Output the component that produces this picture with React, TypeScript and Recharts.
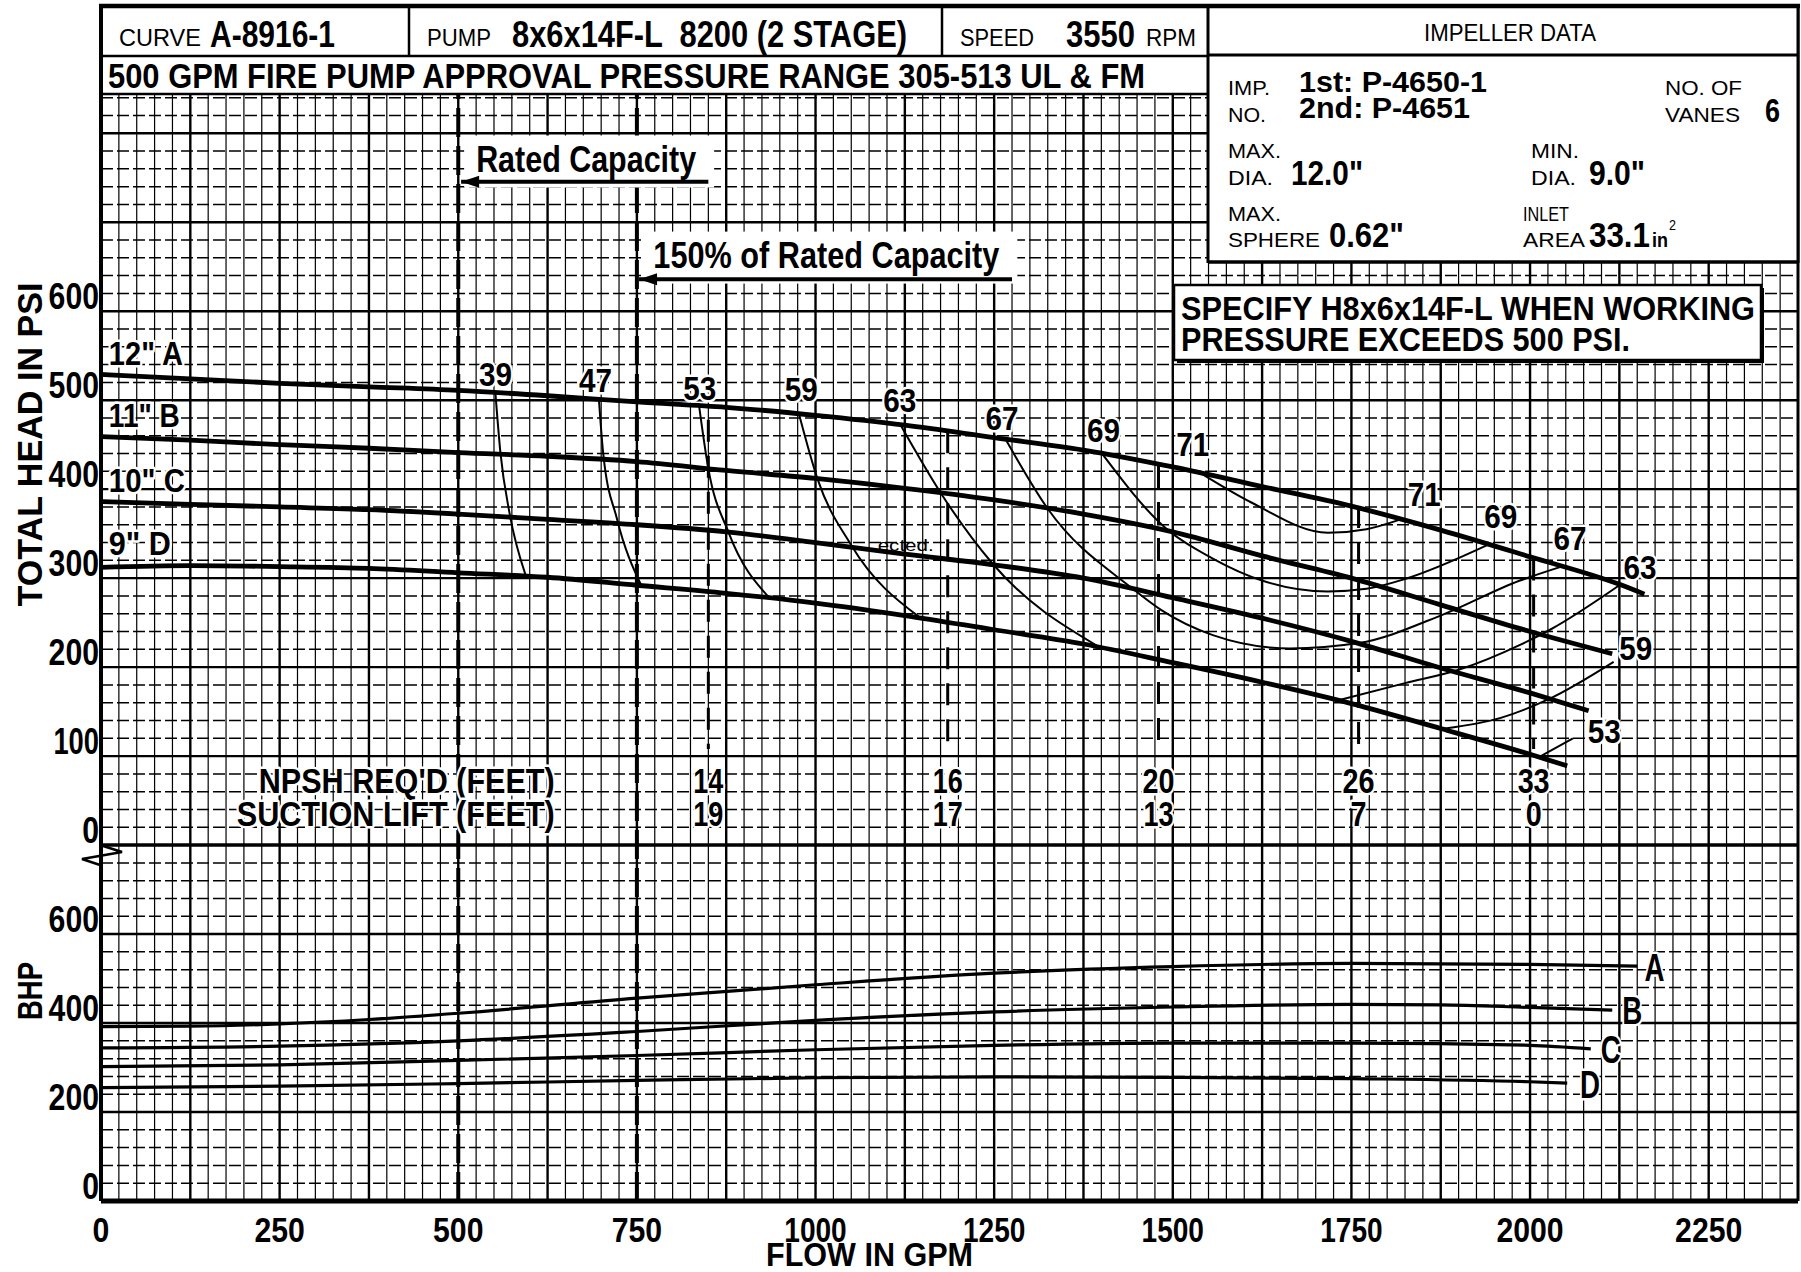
import React from "react";
import {
  ComposedChart, Line, Scatter, XAxis, YAxis, ReferenceLine,
} from "recharts";

const FONT = "'Liberation Sans', Arial, Helvetica, sans-serif";

// axis ticks
const flowTicks = [0, 250, 500, 750, 1000, 1250, 1500, 1750, 2000, 2250];
const headTicks = [0, 100, 200, 300, 400, 500, 600];
const bhpTicks = [0, 200, 400, 600];

// head curves, [gpm, psi]
const head12A = [[0, 529], [125, 524], [250, 519], [375, 515], [500, 511], [625, 505], [750, 498], [875, 492], [1000, 483], [1125, 472], [1250, 458], [1375, 444], [1500, 425], [1625, 403], [1750, 381], [1875, 354], [2000, 324], [2125, 293], [2160, 282]];
const head11B = [[0, 459], [125, 455], [250, 450], [375, 446], [500, 441], [625, 437], [750, 431], [875, 421], [1000, 412], [1125, 401], [1250, 388], [1375, 372], [1500, 352], [1625, 325], [1750, 300], [1875, 270], [2000, 240], [2115, 215]];
const head10C = [[0, 386], [125, 383], [250, 380], [375, 377], [500, 372], [625, 366], [750, 360], [875, 352], [1000, 340], [1125, 327], [1250, 315], [1375, 300], [1500, 278], [1625, 255], [1750, 229], [1875, 199], [2000, 171], [2082, 151]];
const head9D = [[0, 312], [125, 314], [250, 313], [375, 311], [500, 306], [625, 301], [750, 292], [875, 283], [1000, 272], [1125, 258], [1250, 242], [1375, 226], [1500, 205], [1625, 183], [1750, 159], [1875, 131], [2000, 102], [2052, 89]];

// brake horsepower curves, [gpm, hp]
const bhpA = [[0, 392], [125, 393], [250, 398], [375, 408], [500, 422], [750, 456], [1000, 486], [1250, 512], [1500, 527], [1750, 534], [2000, 532], [2150, 528]];
const bhpB = [[0, 344], [250, 348], [500, 360], [750, 381], [1000, 406], [1250, 425], [1500, 436], [1750, 442], [1875, 441], [2000, 435], [2115, 429]];
const bhpC = [[0, 302], [250, 306], [500, 316], [750, 327], [1000, 340], [1250, 350], [1500, 355], [1750, 355], [2000, 350], [2085, 342]];
const bhpD = [[0, 255], [250, 258], [500, 264], [750, 271], [1000, 277], [1250, 279], [1500, 278], [1750, 275], [2000, 268], [2052, 265]];

// efficiency lines, [gpm, psi]
const eff39 = [[552, 508], [559, 441], [572, 372], [594, 304]];
const eff47 = [[697, 499], [703, 439], [722, 367], [756, 292]];
const eff53 = [[837, 494], [850, 423], [878, 352], [934, 279]];
const eff59 = [[977, 484], [1003, 411], [1050, 337], [1144, 257]];
const eff63 = [[1119, 472], [1175, 396], [1247, 317], [1394, 224]];
const eff67 = [[1266, 456], [1325, 378], [1444, 288], [1484, 264], [1556, 236], [1664, 221], [1760, 227], [1878, 259], [1985, 297], [2044, 313]];
const eff69 = [[1400, 441], [1489, 357], [1556, 322], [1626, 297], [1717, 285], [1771, 288], [1825, 299], [1940, 337]];
const eff71 = [[1535, 420], [1610, 385], [1717, 351], [1771, 355], [1819, 366]];
const eff63R = [[1728, 162], [1825, 182], [1900, 197], [1986, 225], [2028, 242], [2125, 292]];
const eff59R = [[1881, 131], [1959, 143], [2026, 164], [2117, 206]];
const eff53R = [[2015, 100], [2060, 120]];

// NPSH
const npshFlow = [850, 1185, 1480, 1760, 2005];
const npshTop = [478, 465, 426, 381, 322];
const npshReq = ["14", "16", "20", "26", "33"];
const suctionLift = ["19", "17", "13", "7", "0"];

const ratedFlow = [500, 750];

// labels placed in chart units
const effLabels = [
  { t: "39", x: 552, y: 529 }, { t: "47", x: 692, y: 523 }, { t: "53", x: 838, y: 514 }, { t: "59", x: 980, y: 513 },
  { t: "63", x: 1118, y: 500 }, { t: "67", x: 1261, y: 480 }, { t: "69", x: 1403, y: 466 }, { t: "71", x: 1528, y: 451 },
  { t: "71", x: 1852, y: 394 }, { t: "69", x: 1959, y: 370 }, { t: "67", x: 2056, y: 345 }, { t: "63", x: 2154, y: 312 },
  { t: "59", x: 2148, y: 222 }, { t: "53", x: 2104, y: 128 },
];
const diaLabels = [
  { t: '12" A', x: 11, y: 539, w: 74 }, { t: '11" B', x: 11, y: 470, w: 71 },
  { t: '10" C', x: 11, y: 397, w: 76 }, { t: '9" D', x: 11, y: 326, w: 62 },
];
const bhpLabels = [
  { t: "A", x: 2160, hp: 495 }, { t: "B", x: 2129, hp: 397 }, { t: "C", x: 2099, hp: 310 }, { t: "D", x: 2070, hp: 232 },
];
const callouts = [
  { t: "Rated Capacity", x: 525, y: 757, w: 220, tip: 504, tail: 850, ay: 745.5 },
  { t: "150% of Rated Capacity", x: 773, y: 649, w: 346, tip: 753, tail: 1275, ay: 636 },
];

const bhpY = (hp: number) => (hp - 800) / 2;
const pts = (a: number[][]) => a.map(([x, y]) => ({ x, y }));
const bhpPts = (a: number[][]) => a.map(([x, y]) => ({ x, y: bhpY(y) }));

const numW = (s: string, d = 16.8, one = 12) =>
  [...s].reduce((a, c) => a + (c === "1" ? one : d), 0);

function XTick(p: any) {
  const s = String(p.payload.value);
  return (
    <text x={p.x} y={p.y + 41} textAnchor="middle" fontFamily={FONT} fontWeight="bold"
      fontSize={35} textLength={numW(s)} lengthAdjust="spacingAndGlyphs">{s}</text>
  );
}

function YTick(p: any) {
  const v = p.payload.value;
  const s = String(v >= 0 ? v : v * 2 + 800);
  return (
    <text x={p.x} y={p.y - 2} textAnchor="end" fontFamily={FONT} fontWeight="bold"
      fontSize={36} textLength={numW(s)} lengthAdjust="spacingAndGlyphs">{s}</text>
  );
}

const halo = { stroke: "#fff", strokeWidth: 5, paintOrder: "stroke" as const, strokeLinejoin: "round" as const };

const effShape = (p: any) => (
  <text x={p.cx} y={p.cy + 12} textAnchor="middle" fontFamily={FONT} fontWeight="bold" fontSize={34}
    textLength={33} lengthAdjust="spacingAndGlyphs" fill="#000" {...halo}>{p.payload.t}</text>
);
const diaShape = (p: any) => (
  <text x={p.cx} y={p.cy} fontFamily={FONT} fontWeight="bold" fontSize={33}
    textLength={p.payload.w} lengthAdjust="spacingAndGlyphs" fill="#000" {...halo}>{p.payload.t}</text>
);
const bhpShape = (p: any) => (
  <text x={p.cx} y={p.cy} fontFamily={FONT} fontWeight="bold" fontSize={38}
    textLength={20} lengthAdjust="spacingAndGlyphs" fill="#000" {...halo}>{p.payload.t}</text>
);
const npshShape = (p: any) => (
  <text x={p.cx} y={p.cy} textAnchor="middle" fontFamily={FONT} fontWeight="bold" fontSize={35}
    textLength={numW(p.payload.t, 16, 14)} lengthAdjust="spacingAndGlyphs" fill="#000" {...halo}>{p.payload.t}</text>
);
const npshTitleShape = (p: any) => (
  <text x={p.cx} y={p.cy} textAnchor="end" fontFamily={FONT} fontWeight="bold" fontSize={35}
    textLength={p.payload.w} lengthAdjust="spacingAndGlyphs" fill="#000" {...halo}>{p.payload.t}</text>
);
const calloutShape = (p: any) => (
  <g>
    <rect x={p.cx - 12} y={p.cy - 36} width={p.payload.w + 30} height={52} fill="#fff" />
    <text x={p.cx} y={p.cy} fontFamily={FONT} fontWeight="bold" fontSize={36}
      textLength={p.payload.w} lengthAdjust="spacingAndGlyphs" fill="#000">{p.payload.t}</text>
  </g>
);
const arrowDot = (p: any) =>
  p.index === 0 ? (
    <path key={p.key ?? p.index} d={`M${p.cx},${p.cy} l18,-6 l0,12 z`} fill="#000" />
  ) : (
    <g key={p.key ?? p.index} />
  );

function T({ x, y, t, w, fs = 21, b = false, anchor = "start", rot = false }: any) {
  return (
    <text x={x} y={y} fontFamily={FONT} fontWeight={b ? "bold" : "normal"} fontSize={fs}
      textAnchor={anchor} textLength={w} lengthAdjust="spacingAndGlyphs" style={{ whiteSpace: "pre" }}
      transform={rot ? `rotate(-90 ${x} ${y})` : undefined}>{t}</text>
  );
}

export default function App() {
  const vGrid: number[] = [];
  for (let g = 25; g < 2375; g += 25) vGrid.push(g);
  const hGrid: number[] = [];
  for (let v = -380; v <= 940; v += 20) hGrid.push(v);

  const npshRows = npshFlow.flatMap((x, i) => [
    { x, y: 59, t: npshReq[i] },
    { x, y: 21, t: suctionLift[i] },
  ]);
  const npshTitles = [
    { t: "NPSH REQ'D (FEET)", x: 635, y: 59, w: 296 },
    { t: "SUCTION LIFT (FEET)", x: 635, y: 21, w: 318 },
  ];

  const headCurves = [head12A, head11B, head10C, head9D];
  const bhpCurves = [bhpA, bhpB, bhpC, bhpD];
  const effCurves = [eff39, eff47, eff53, eff59, eff63, eff67, eff69, eff71, eff63R, eff59R, eff53R];

  return (
    <div style={{ position: "absolute", left: 0, top: 0, width: 1801, height: 1272, background: "#fff" }}>
      <ComposedChart width={1801} height={1272} margin={{ top: 6, right: 3, bottom: 0, left: 0 }}>
        <XAxis type="number" dataKey="x" domain={[0, 2375]} allowDataOverflow ticks={flowTicks}
          height={71} axisLine={false} tickLine={false} tickSize={0} tickMargin={0} tick={XTick} interval={0} />
        <YAxis type="number" dataKey="y" domain={[-400, 943]} allowDataOverflow
          ticks={[...bhpTicks.map(bhpY), ...headTicks]} width={101} axisLine={false} tickLine={false}
          tickSize={0} tickMargin={2} tick={YTick} interval={0} />

        {vGrid.map((g) => (
          <ReferenceLine key={"v" + g} x={g} zIndex={-100} stroke="#000"
            strokeWidth={g % 125 === 0 ? 2.4 : 1.2} />
        ))}
        {hGrid.map((v) => (
          <ReferenceLine key={"h" + v} y={v} zIndex={-100} stroke="#000"
            strokeWidth={v === 0 ? 3.5 : v % 100 === 0 ? 2.4 : 1.5}
            strokeDasharray={v % 100 === 0 ? undefined : "12 4"} />
        ))}

        {ratedFlow.map((x) => (
          <ReferenceLine key={"r" + x} segment={[{ x, y: -400 }, { x, y: 844 }]} zIndex={-90}
            stroke="#000" strokeWidth={4} strokeDasharray="29 9" />
        ))}
        {npshFlow.map((x, i) => (
          <ReferenceLine key={"n" + x} segment={[{ x, y: npshTop[i] }, { x, y: 108 }]} zIndex={-90}
            stroke="#000" strokeWidth={3} strokeDasharray="22 14" />
        ))}

        <ReferenceLine x={0} stroke="#000" strokeWidth={4} zIndex={500} ifOverflow="visible" />
        <ReferenceLine x={2375} stroke="#000" strokeWidth={3} zIndex={500} ifOverflow="visible" />
        <ReferenceLine y={-400} stroke="#000" strokeWidth={5} zIndex={500} ifOverflow="visible" />

        <Scatter data={callouts} dataKey="y" shape={calloutShape} isAnimationActive={false} zIndex={-80} />
        {callouts.map((c, i) => (
          <Line key={"a" + i} data={[{ x: c.tip, y: c.ay }, { x: c.tail, y: c.ay }]} dataKey="y"
            type="linear" stroke="#000" strokeWidth={4} dot={arrowDot} activeDot={false}
            isAnimationActive={false} />
        ))}

        {headCurves.map((c, i) => (
          <Line key={"hc" + i} data={pts(c)} dataKey="y" type="monotone" stroke="#000" strokeWidth={4.8}
            dot={false} activeDot={false} isAnimationActive={false} />
        ))}
        {bhpCurves.map((c, i) => (
          <Line key={"bc" + i} data={bhpPts(c)} dataKey="y" type="monotone" stroke="#000" strokeWidth={3.2}
            dot={false} activeDot={false} isAnimationActive={false} />
        ))}
        {effCurves.map((c, i) => (
          <Line key={"ec" + i} data={pts(c)} dataKey="y" type="monotone" stroke="#000" strokeWidth={2}
            dot={false} activeDot={false} isAnimationActive={false} />
        ))}

        <Scatter data={effLabels} dataKey="y" shape={effShape} isAnimationActive={false} />
        <Scatter data={diaLabels} dataKey="y" shape={diaShape} isAnimationActive={false} />
        <Scatter data={bhpLabels.map((l) => ({ ...l, y: bhpY(l.hp) }))} dataKey="y" shape={bhpShape} isAnimationActive={false} />
        <Scatter data={npshRows} dataKey="y" shape={npshShape} isAnimationActive={false} />
        <Scatter data={npshTitles} dataKey="y" shape={npshTitleShape} isAnimationActive={false} />
        <Scatter data={[{ x: 1087, y: 331, t: "ected." }]} dataKey="y" isAnimationActive={false}
          shape={(p: any) => (
            <text x={p.cx} y={p.cy} fontFamily={FONT} fontSize={17} textLength={56}
              lengthAdjust="spacingAndGlyphs">{p.payload.t}</text>
          )} />
      </ComposedChart>

      <svg width={1801} height={1272} style={{ position: "absolute", left: 0, top: 0, pointerEvents: "none" }}>
        {/* header table */}
        <rect x={101} y={6} width={1107} height={88} fill="#fff" />
        <rect x={1208} y={6} width={590} height={256} fill="#fff" />
        <line x1={99} y1={6} x2={1800} y2={6} stroke="#000" strokeWidth={4.5} />
        <line x1={101} y1={56} x2={1208} y2={56} stroke="#000" strokeWidth={2.5} />
        <line x1={101} y1={94} x2={1208} y2={94} stroke="#000" strokeWidth={2.5} />
        <line x1={409} y1={6} x2={409} y2={56} stroke="#000" strokeWidth={2.5} />
        <line x1={942} y1={6} x2={942} y2={56} stroke="#000" strokeWidth={2.5} />
        <line x1={1208} y1={6} x2={1208} y2={263} stroke="#000" strokeWidth={3} />
        <line x1={1208} y1={55} x2={1798} y2={55} stroke="#000" strokeWidth={3} />
        <line x1={1208} y1={262} x2={1798} y2={262} stroke="#000" strokeWidth={3.5} />
        <line x1={1798} y1={6} x2={1798} y2={263} stroke="#000" strokeWidth={3} />
        <line x1={101} y1={6} x2={101} y2={94} stroke="#000" strokeWidth={4} />

        <T x={119} y={46} t="CURVE" w={82} fs={23} />
        <T x={210} y={47} t="A-8916-1" w={125} fs={36} b />
        <T x={427} y={46} t="PUMP" w={64} fs={23} />
        <T x={512} y={47} t="8x6x14F-L  8200 (2 STAGE)" w={395} fs={36} b />
        <T x={960} y={46} t="SPEED" w={74} fs={23} />
        <T x={1066} y={47} t="3550" w={69} fs={36} b />
        <T x={1146} y={46} t="RPM" w={50} fs={23} />
        <T x={1424} y={41} t="IMPELLER DATA" w={172} fs={23} />
        <T x={108} y={88} t="500 GPM FIRE PUMP APPROVAL PRESSURE RANGE 305-513 UL & FM" w={1037} fs={35} b />

        <T x={1228} y={95} t="IMP." w={42} />
        <T x={1228} y={122} t="NO." w={38} />
        <T x={1299} y={92} t="1st: P-4650-1" w={188} fs={30} b />
        <T x={1299} y={118} t="2nd: P-4651" w={171} fs={30} b />
        <T x={1665} y={95} t="NO. OF" w={77} />
        <T x={1665} y={122} t="VANES" w={75} />
        <T x={1765} y={122} t="6" w={15} fs={34} b />
        <T x={1228} y={158} t="MAX." w={53} />
        <T x={1228} y={185} t="DIA." w={45} />
        <T x={1291} y={185} t='12.0"' w={72} fs={35} b />
        <T x={1531} y={158} t="MIN." w={48} />
        <T x={1531} y={185} t="DIA." w={45} />
        <T x={1589} y={185} t='9.0"' w={56} fs={35} b />
        <T x={1228} y={221} t="MAX." w={53} />
        <T x={1228} y={247} t="SPHERE" w={92} />
        <T x={1329} y={247} t='0.62"' w={75} fs={35} b />
        <T x={1523} y={221} t="INLET" w={46} />
        <T x={1523} y={247} t="AREA" w={62} />
        <T x={1589} y={247} t="33.1" w={61} fs={35} b />
        <T x={1652} y={247} t="in" w={16} fs={20} b />
        <T x={1669} y={230} t="2" w={7} fs={14} />

        {/* note box */}
        <rect x={1177} y={288} width={587} height={75} fill="#000" />
        <rect x={1174} y={285} width={587} height={75} fill="#fff" stroke="#000" strokeWidth={2.5} />
        <T x={1181} y={320} t="SPECIFY H8x6x14F-L WHEN WORKING" w={574} fs={34} b />
        <T x={1181} y={351} t="PRESSURE EXCEEDS 500 PSI." w={449} fs={34} b />

        {/* axis titles */}
        <T x={42} y={444.5} t="TOTAL HEAD IN PSI" w={324} fs={35} b anchor="middle" rot />
        <T x={42} y={991} t="BHP" w={58} fs={35} b anchor="middle" rot />
        <T x={869.5} y={1266} t="FLOW IN GPM" w={207} fs={33} b anchor="middle" />

        {/* axis break */}
        <path d="M100,845 L122,852 L82,859 L100,865" fill="none" stroke="#000" strokeWidth={2.5} />
      </svg>
    </div>
  );
}
